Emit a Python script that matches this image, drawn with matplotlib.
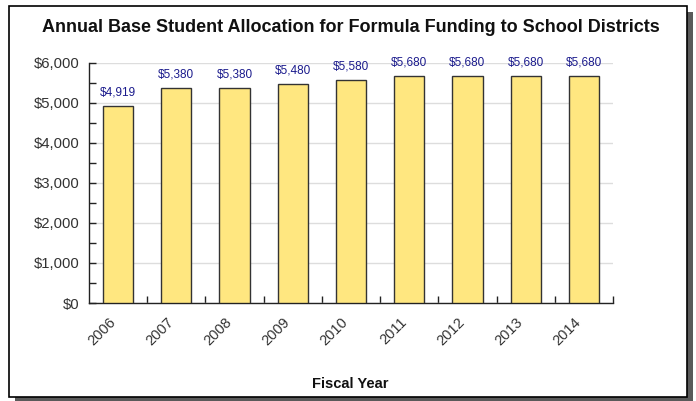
import matplotlib
matplotlib.use("Agg")
import matplotlib.pyplot as plt
from matplotlib.patches import Rectangle
from matplotlib.ticker import MultipleLocator, FuncFormatter, FixedLocator

years = ["2006", "2007", "2008", "2009", "2010", "2011", "2012", "2013", "2014"]
values = [4919, 5380, 5380, 5480, 5580, 5680, 5680, 5680, 5680]
title = "Annual Base Student Allocation for Formula Funding to School Districts"
xlabel = "Fiscal Year"

plt.rcParams['font.family'] = ['Liberation Sans', 'DejaVu Sans']

W, H = 696, 401
fig = plt.figure(figsize=(W / 100, H / 100), dpi=100)
fig.patch.set_facecolor("white")

# shadow and frame
fig.patches.append(Rectangle((15 / W, 0), (693 - 15) / W, (401 - 12) / H,
                             transform=fig.transFigure, facecolor="#5a5a5a",
                             edgecolor="none", zorder=0))
fig.patches.append(Rectangle((9 / W, 1 - 397 / H), (687 - 9) / W, (397 - 6) / H,
                             transform=fig.transFigure, facecolor="white",
                             edgecolor="black", linewidth=1.2, zorder=1))

ax = fig.add_axes([89 / W, 1 - 303 / H, (613 - 89) / W, (303 - 63) / H])
ax.set_facecolor("none")
ax.set_zorder(2)

x = list(range(len(years)))
ax.bar(x, values, width=0.52, color="#FFE780", edgecolor="#333333",
       linewidth=1.0, zorder=3)
for xi, v in zip(x, values):
    ax.text(xi, v + 190, f"${v:,}", ha="center", va="bottom",
            fontsize=8.5, color="#1a1a8c", zorder=4)

ax.set_xlim(-0.5, len(years) - 0.5)
ax.set_ylim(0, 6000)
ax.yaxis.set_major_locator(MultipleLocator(1000))
ax.yaxis.set_minor_locator(MultipleLocator(500))
ax.yaxis.set_major_formatter(FuncFormatter(lambda v, p: f"${v:,.0f}"))
ax.grid(axis="y", color="#dddddd", linewidth=1.0, zorder=0)
ax.set_axisbelow(True)

ax.set_xticks(x)
ax.set_xticklabels(years, rotation=45, ha="right", va="bottom",
                   rotation_mode="anchor", fontsize=10.5, color="#333333")
ax.xaxis.set_minor_locator(FixedLocator([i + 0.5 for i in range(len(years))]))
ax.tick_params(axis="x", which="major", length=0, pad=16)
ax.tick_params(axis="x", which="minor", direction="in", length=5, width=1,
               color="#222222")
ax.tick_params(axis="y", which="both", direction="in", length=5, width=1,
               color="#222222", labelsize=10.7, labelcolor="#333333", pad=7)

for s in ["top", "right"]:
    ax.spines[s].set_visible(False)
for s in ["left", "bottom"]:
    ax.spines[s].set_color("#222222")
    ax.spines[s].set_linewidth(1.0)

fig.text(351 / W, 1 - 28 / H, title, ha="center", va="center",
         fontsize=13, fontweight="bold", color="#111111", zorder=5)
fig.text(350 / W, 1 - 384 / H, xlabel, ha="center", va="center",
         fontsize=10.5, fontweight="bold", color="#111111", zorder=5)

fig.savefig("out.png", dpi=100)
